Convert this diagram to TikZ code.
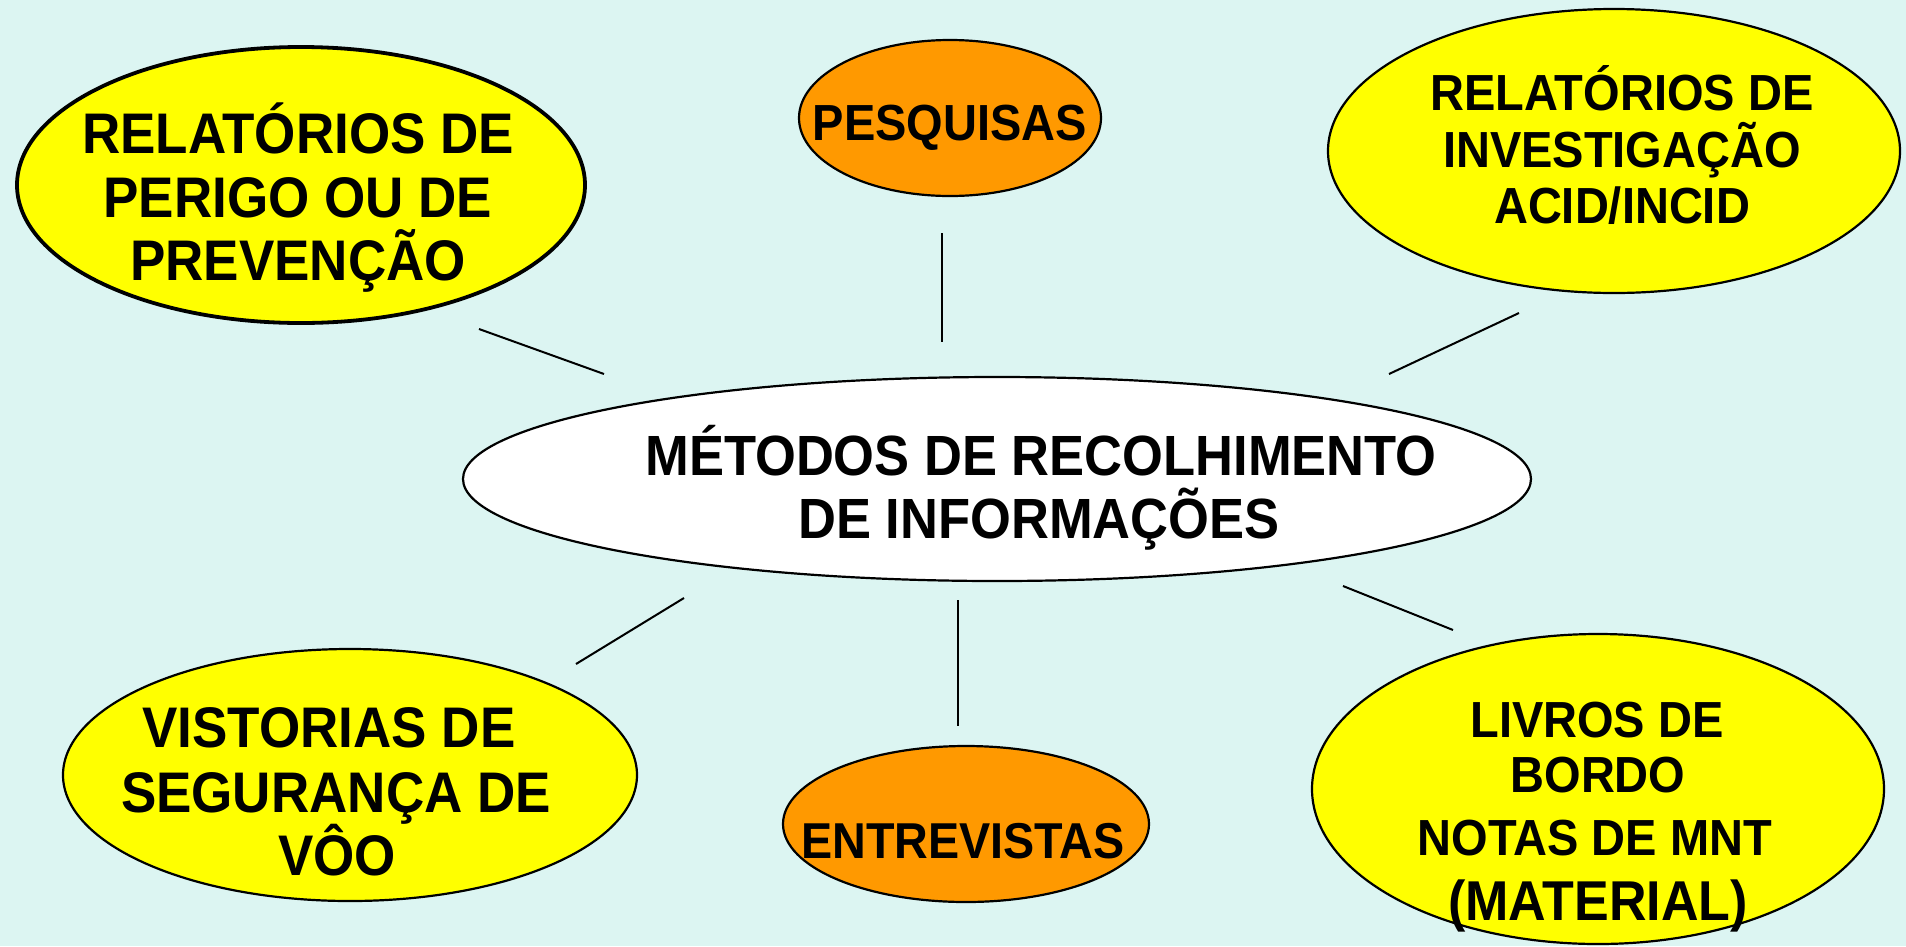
\documentclass[tikz,border=0pt]{standalone}
\usepackage{graphicx}
\usepackage{fontspec}
\setmainfont{Liberation Sans}
\usetikzlibrary{shapes.geometric}
\definecolor{bgc}{HTML}{DCF5F2}
\definecolor{yelc}{HTML}{FFFF00}
\definecolor{orgc}{HTML}{FF9900}
\newcommand\tsz[1]{\fontsize{#1}{#1}\selectfont}
\newcommand\tall[1]{\scalebox{1}[1.08]{#1}}
\tikzset{
  bub/.style={ellipse, draw=black, line width=2.2pt, inner sep=0pt},
  yelbub/.style={bub, fill=yelc},
  orgbub/.style={bub, fill=orgc},
  whibub/.style={bub, fill=white},
  txt/.style={anchor=base, inner sep=0pt, font=\bfseries\tsz{#1}},
  conn/.style={draw=black, line width=2pt}
}
\begin{document}
\begin{tikzpicture}[x=1pt,y=-1pt]
\fill[bgc] (0,0) rectangle (1906,946);
\useasboundingbox (0,0) rectangle (1906,946);

% ellipses
\node[yelbub, line width=3.8pt, minimum width=568pt, minimum height=276pt] (tl) at (301,185) {};
\node[orgbub, minimum width=302pt, minimum height=156pt] (pq) at (950,118) {};
\node[yelbub, minimum width=572pt, minimum height=284pt] (tr) at (1614,151) {};
\node[whibub, minimum width=1068pt, minimum height=204pt] (ce) at (997,479) {};
\node[yelbub, minimum width=574pt, minimum height=252pt] (bl) at (350,775) {};
\node[orgbub, minimum width=366pt, minimum height=156pt] (en) at (966,824) {};
\node[yelbub, minimum width=572pt, minimum height=310pt] (br) at (1598,789) {};

% texts
\node[txt=53] (tl1) at (298,153) {\tall{RELATÓRIOS DE}};
\node[txt=53] (tl2) at (298,217) {\tall{PERIGO OU DE}};
\node[txt=53] (tl3) at (298,280) {\tall{PREVENÇÃO}};

\node[txt=47] (pq1) at (950,140) {\tall{PESQUISAS}};

\node[txt=47] (tr1) at (1622,110) {\tall{RELATÓRIOS DE}};
\node[txt=47] (tr2) at (1622,167) {\tall{INVESTIGAÇÃO}};
\node[txt=47] (tr3) at (1622,223) {\tall{ACID/INCID}};

\node[txt=52.5] (ce1) at (1041,475) {\tall{MÉTODOS DE RECOLHIMENTO}};
\node[txt=52.5] (ce2) at (1039,538) {\tall{DE INFORMAÇÕES}};

\node[txt=53] (bl1) at (329,747) {\tall{VISTORIAS DE}};
\node[txt=53] (bl2) at (336,812) {\tall{SEGURANÇA DE}};
\node[txt=53] (bl3) at (337,875) {\tall{VÔO}};

\node[txt=46.7] (en1) at (963,858) {\tall{ENTREVISTAS}};

\node[txt=47] (br1) at (1597,737) {\tall{LIVROS DE}};
\node[txt=47] (br2) at (1598,792) {\tall{BORDO}};
\node[txt=47] (br3) at (1595,855) {\tall{NOTAS DE MNT}};
\node[txt=52] (br4) at (1598,920) {\tall{(MATERIAL)}};

% connector end points
\coordinate (c1a) at (479,329);  \coordinate (c1b) at (604,374);
\coordinate (c2a) at (942,233);  \coordinate (c2b) at (942,342);
\coordinate (c3a) at (1519,313); \coordinate (c3b) at (1389,374);
\coordinate (c4a) at (684,598);  \coordinate (c4b) at (576,664);
\coordinate (c5a) at (958,600);  \coordinate (c5b) at (958,726);
\coordinate (c6a) at (1343,586); \coordinate (c6b) at (1453,630);

\draw[conn] (c1a) -- (c1b);
\draw[conn] (c2a) -- (c2b);
\draw[conn] (c3a) -- (c3b);
\draw[conn] (c4a) -- (c4b);
\draw[conn] (c5a) -- (c5b);
\draw[conn] (c6a) -- (c6b);
\end{tikzpicture}
\end{document}
